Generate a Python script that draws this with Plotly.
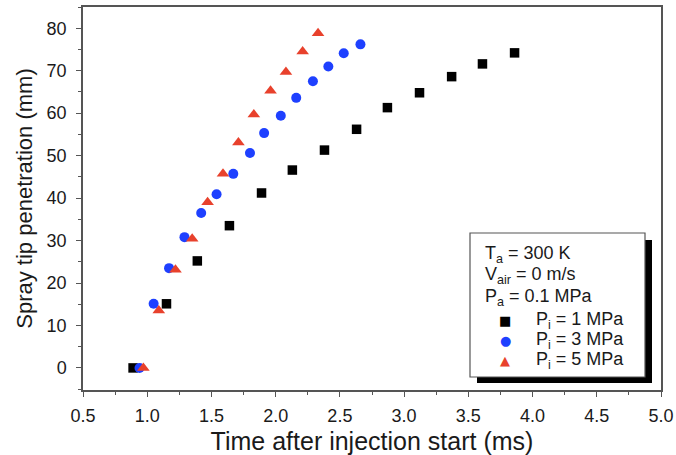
import plotly.graph_objects as go

# Data (time in ms, penetration in mm)
t_1mpa = [0.89, 1.15, 1.39, 1.64, 1.89, 2.13, 2.38, 2.63, 2.87, 3.12, 3.37, 3.61, 3.86]
s_1mpa = [0.0, 15.1, 25.2, 33.5, 41.2, 46.6, 51.3, 56.2, 61.3, 64.8, 68.6, 71.6, 74.2]

t_3mpa = [0.94, 1.05, 1.17, 1.29, 1.42, 1.54, 1.67, 1.80, 1.91, 2.04, 2.16, 2.29, 2.41, 2.53, 2.66]
s_3mpa = [0.0, 15.1, 23.5, 30.8, 36.5, 40.9, 45.7, 50.6, 55.3, 59.4, 63.6, 67.5, 71.0, 74.1, 76.2]

t_5mpa = [0.97, 1.09, 1.22, 1.35, 1.47, 1.59, 1.71, 1.83, 1.96, 2.08, 2.21, 2.33]
s_5mpa = [0.0, 13.5, 23.1, 30.4, 39.0, 45.7, 53.1, 59.7, 65.3, 69.7, 74.5, 78.8]

series_names = ["P<sub>i</sub> = 1 MPa", "P<sub>i</sub> = 3 MPa", "P<sub>i</sub> = 5 MPa"]
series_colors = ["black", "#1E40FF", "#E8412C"]
series_glyphs = ["■", "●", "▲"]
x_ticks = [0.5, 1.0, 1.5, 2.0, 2.5, 3.0, 3.5, 4.0, 4.5, 5.0]
x_tick_labels = ["0.5", "1.0", "1.5", "2.0", "2.5", "3.0", "3.5", "4.0", "4.5", "5.0"]
y_ticks = [0, 10, 20, 30, 40, 50, 60, 70, 80]
cond_lines = ["T<sub>a</sub> = 300 K", "V<sub>air</sub> = 0 m/s", "P<sub>a</sub> = 0.1 MPa"]

W, H = 676, 455
L, R, T, B = 83, 15, 7, 65
PW, PH = W - L - R, H - T - B

def px(x):
    return (x - L) / PW

def py(y):
    return (H - B - y) / PH

FONT = "Liberation Sans, Arial, sans-serif"
AX = "#555555"
TXT = "#1a1a1a"

fig = go.Figure()
fig.add_trace(go.Scatter(x=t_1mpa, y=s_1mpa, mode="markers", name=series_names[0],
                         marker=dict(symbol="square", size=9.5, color=series_colors[0])))
fig.add_trace(go.Scatter(x=t_3mpa, y=s_3mpa, mode="markers", name=series_names[1],
                         marker=dict(symbol="circle", size=10, color=series_colors[1])))
fig.add_trace(go.Scatter(x=t_5mpa, y=s_5mpa, mode="markers", name=series_names[2],
                         marker=dict(symbol="triangle-up", size=11, color=series_colors[2])))

# legend box with shadow
shapes = [
    dict(type="rect", xref="paper", yref="paper",
         x0=px(477), x1=px(652), y0=py(383), y1=py(240),
         fillcolor="black", line=dict(width=0), layer="above"),
    dict(type="rect", xref="paper", yref="paper",
         x0=px(470), x1=px(645), y0=py(377), y1=py(233),
         fillcolor="white", line=dict(color=AX, width=1.2), layer="above"),
]

annotations = []
for i, txt in enumerate(cond_lines):
    annotations.append(dict(text=txt, xref="paper", yref="paper",
                            x=px(483), y=py(254 + i * 21.5), xanchor="left", yanchor="middle",
                            showarrow=False, font=dict(family=FONT, size=18, color=TXT)))
for i, (nm, col, gl) in enumerate(zip(series_names, series_colors, series_glyphs)):
    yy = py(320 + i * 20)
    annotations.append(dict(text=gl, xref="paper", yref="paper",
                            x=px(505), y=yy, xanchor="center", yanchor="middle",
                            showarrow=False,
                            font=dict(family="DejaVu Sans", size=13, color=col)))
    annotations.append(dict(text=nm, xref="paper", yref="paper",
                            x=px(534), y=yy, xanchor="left", yanchor="middle",
                            showarrow=False, font=dict(family=FONT, size=18, color=TXT)))

fig.update_layout(
    width=W, height=H,
    margin=dict(l=L, r=R, t=T, b=B, autoexpand=False),
    paper_bgcolor="white", plot_bgcolor="white",
    shapes=shapes, annotations=annotations,
    showlegend=False,
    font=dict(family=FONT, color=TXT),
)

fig.update_xaxes(range=[0.5, 5.0], tickvals=x_ticks, ticktext=x_tick_labels,
                 automargin=False,
                 showgrid=False, zeroline=False, showline=True, linecolor=AX, linewidth=1.5,
                 mirror=True, ticks="outside", ticklen=5, tickcolor=AX, tickwidth=1.2,
                 ticklabelstandoff=4,
                 minor=dict(ticks="outside", ticklen=3, dtick=0.25, tickcolor=AX, showgrid=False),
                 tickfont=dict(family=FONT, size=18, color=TXT),
                 title=dict(text="Time after injection start (ms)",
                            font=dict(family=FONT, size=25, color=TXT), standoff=7))
fig.update_yaxes(range=[-5.2, 85], tickvals=y_ticks, ticktext=[str(v) for v in y_ticks],
                 automargin=False,
                 showgrid=False, zeroline=False, showline=True, linecolor=AX, linewidth=1.5,
                 mirror=True, ticks="outside", ticklen=5, tickcolor=AX, tickwidth=1.2,
                 ticklabelstandoff=6,
                 minor=dict(ticks="outside", ticklen=3, dtick=5, tickcolor=AX, showgrid=False),
                 tickfont=dict(family=FONT, size=18, color=TXT),
                 title=dict(text="Spray tip penetration (mm)",
                            font=dict(family=FONT, size=22, color=TXT), standoff=8))

fig.write_html("out.html",
               config={"displayModeBar": False},
               post_script="document.body.style.margin='0';document.body.style.padding='0';")
